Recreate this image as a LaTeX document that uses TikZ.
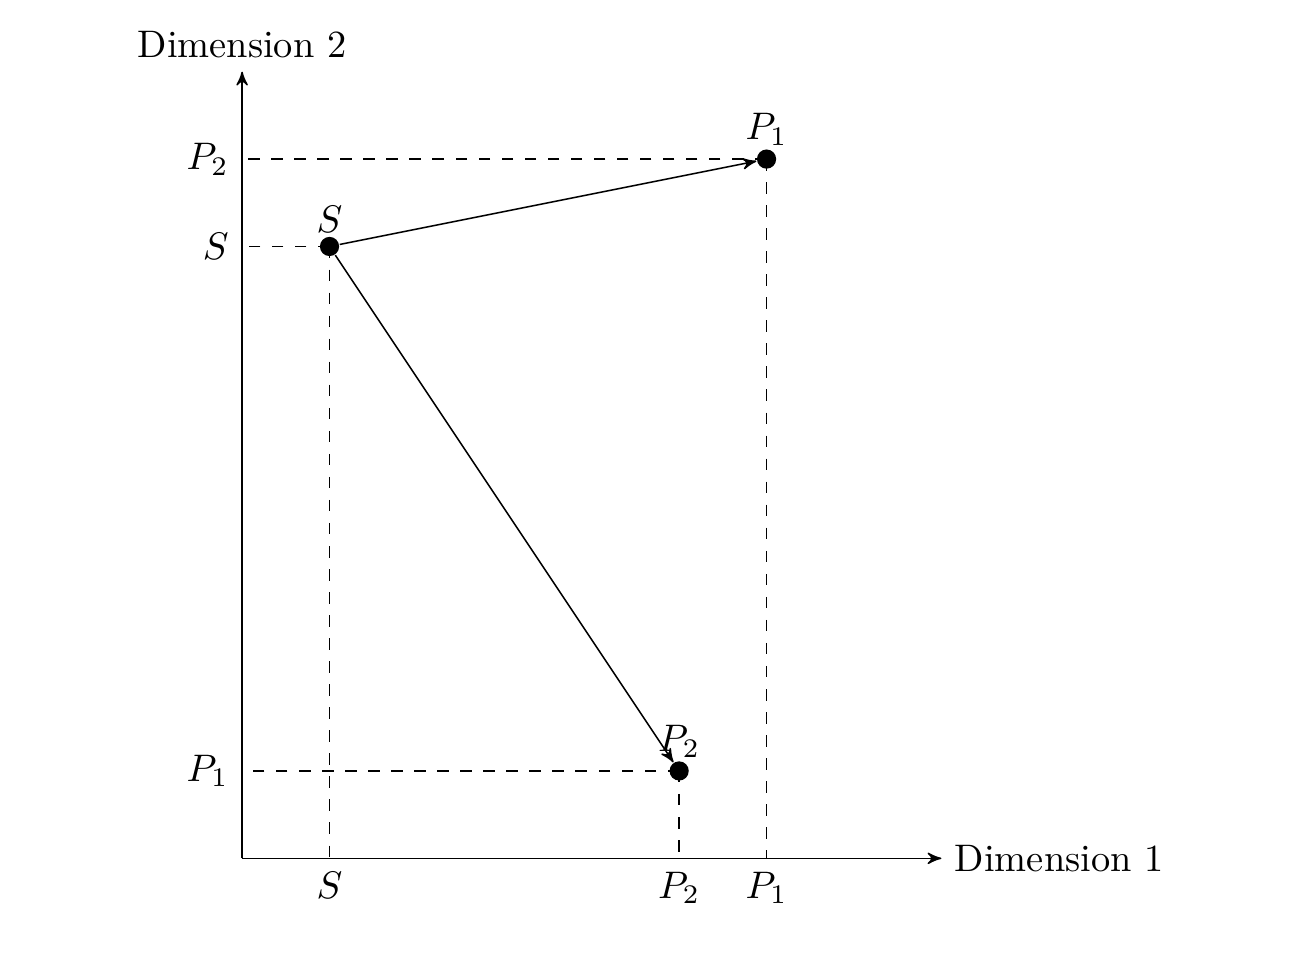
\documentclass[tikz,border=0pt]{standalone}
\usepackage{amsmath,amssymb}
\usepackage{tikz}
\usetikzlibrary{arrows, positioning, calc}

\begin{document}
\begin{tikzpicture}[
    x=0.8cm, y=0.8cm,
    >=stealth',
    dot/.style={circle, fill=black, inner sep=0pt, minimum size=5pt},
    guide/.style={dashed},
    arrow/.style={->}
]
    \useasboundingbox (-2.77,-1.12) rectangle (12.24,9.82);

    % axes
    \coordinate (o) at (0,0);
    \coordinate (xend) at (8,0);
    \coordinate (yend) at (0,9);
    \draw[arrow] (o) -- (xend);
    \draw[arrow] (o) -- (yend);
    \node[right] (xlab) at (xend) {Dimension 1};
    \node[above] (ylab) at (yend) {Dimension 2};

    % points
    \node[dot] (s) at (1,7) {};
    \node[dot] (p1) at (6,8) {};
    \node[dot] (p2) at (5,1) {};
    \node[above] (slab) at (s.center) {$S$};
    \node[above] (p1lab) at (p1.center) {$P_1$};
    \node[above] (p2lab) at (p2.center) {$P_2$};

    % projections
    \coordinate (sx) at (s |- o);
    \coordinate (sy) at (s -| o);
    \coordinate (p1x) at (p1 |- o);
    \coordinate (p1y) at (p1 -| o);
    \coordinate (p2x) at (p2 |- o);
    \coordinate (p2y) at (p2 -| o);
    \node[below] (sxlab) at (sx) {$S$};
    \node[left] (sylab) at (sy) {$S$};
    \node[below] (p1xlab) at (p1x) {$P_1$};
    \node[left] (p1ylab) at (p1y) {$P_2$};
    \node[below] (p2xlab) at (p2x) {$P_2$};
    \node[left] (p2ylab) at (p2y) {$P_1$};

    \draw[guide] (s.center) -- (sx);
    \draw[guide] (s.center) -- (sy);
    \draw[guide] (p1.center) -- (p1x);
    \draw[guide] (p1.center) -- (p1y);
    \draw[guide] (p2.center) -- (p2x);
    \draw[guide] (p2.center) -- (p2y);

    \draw[arrow] (s) -- (p1);
    \draw[arrow] (s) -- (p2);
\end{tikzpicture}
\end{document}
